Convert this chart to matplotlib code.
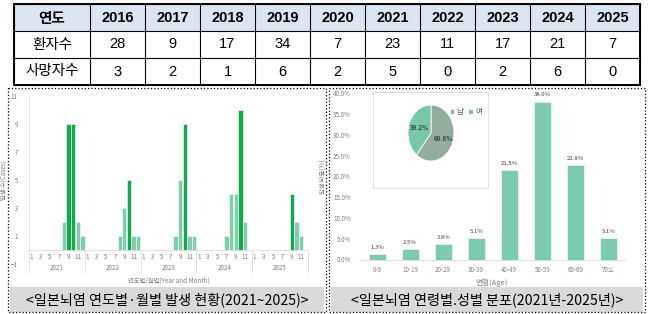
import matplotlib
matplotlib.use('Agg')
import matplotlib.pyplot as plt
from matplotlib.patches import Rectangle

plt.rcParams['font.family'] = ['Noto Sans CJK KR', 'DejaVu Sans']

W, H = 652, 314

# table data
table_years = ['2016', '2017', '2018', '2019', '2020', '2021', '2022', '2023', '2024', '2025']
patients = [28, 9, 17, 34, 7, 23, 11, 17, 21, 7]
deaths = [3, 2, 1, 6, 2, 5, 0, 2, 6, 0]

# monthly cases 2021-2025 (Jan..Dec)
chart_years = ['2021', '2022', '2023', '2024', '2025']
cases_2021 = [0, 0, 0, 0, 0, 0, 0, 2, 9, 9, 2, 1]
cases_2022 = [0, 0, 0, 0, 0, 0, 0, 1, 3, 5, 1, 1]
cases_2023 = [0, 0, 0, 0, 0, 0, 0, 1, 5, 9, 1, 1]
cases_2024 = [0, 0, 0, 0, 0, 0, 1, 4, 4, 10, 2, 0]
cases_2025 = [0, 0, 0, 0, 0, 0, 0, 0, 4, 2, 1, 0]
month_ticks = ['1', '3', '5', '7', '9', '11']

# age / sex distribution
age_groups = ['0-9', '10-19', '20-29', '30-39', '40-49', '50-59', '60-69', '70≤']
age_share = [1.3, 2.5, 3.8, 5.1, 21.5, 38.0, 22.8, 5.1]
sex_labels = ['남', '여']
sex_share = [60.8, 39.2]

LIGHT = '#7fcdab'
DARK = '#14a84e'
GRAY = '#7f7f7f'


def box(x0, y0, x1, y1):
    # pixel box -> figure coords
    return [x0 / W, 1 - y1 / H, (x1 - x0) / W, (y1 - y0) / H]


fig = plt.figure(figsize=(W / 100, H / 100), dpi=100)
fig.patch.set_facecolor('white')

bg = fig.add_axes([0, 0, 1, 1])
bg.set_xlim(0, W)
bg.set_ylim(H, 0)
bg.axis('off')

# ---- table ----
tx0, tx1 = 14, 640
first_w = 76
col_w = (tx1 - tx0 - first_w) / len(table_years)
row_y = [4, 31, 58, 85]
bg.add_patch(Rectangle((tx0, row_y[0]), tx1 - tx0, row_y[1] - row_y[0],
                       facecolor='#dbe5f1', edgecolor='none'))
col_x = [tx0, tx0 + first_w] + [tx0 + first_w + col_w * (i + 1) for i in range(len(table_years))]
for x in col_x:
    bg.plot([x, x], [row_y[0], row_y[-1]], color='black', lw=0.8)
for y in row_y:
    bg.plot([tx0, tx1], [y, y], color='black', lw=0.8)
bg.add_patch(Rectangle((tx0, row_y[0]), tx1 - tx0, row_y[-1] - row_y[0],
                       facecolor='none', edgecolor='black', lw=1.4))

rows = [('연도', table_years), ('환자수', patients), ('사망자수', deaths)]
for r, (head, vals) in enumerate(rows):
    yc = (row_y[r] + row_y[r + 1]) / 2
    wt = 'bold' if r == 0 else 'normal'
    bg.text(tx0 + first_w / 2, yc, head, ha='center', va='center', fontsize=10.5, fontweight=wt)
    for i, v in enumerate(vals):
        xc = tx0 + first_w + col_w * (i + 0.5)
        bg.text(xc, yc, str(v), ha='center', va='center', fontsize=10.5, fontweight=wt,
                family=['Liberation Sans', 'DejaVu Sans'])

# ---- panel frames and captions ----
for (px0, px1) in [(8, 326), (329, 645)]:
    bg.add_patch(Rectangle((px0 + 2, 287), px1 - px0 - 4, 25, facecolor='#d9d9d9', edgecolor='none'))
    bg.add_patch(Rectangle((px0, 88), px1 - px0, 224, facecolor='none', edgecolor='black',
                           lw=0.9, linestyle=':'))
bg.text(167, 300, '<일본뇌염 연도별·월별 발생 현황(2021~2025)>', ha='center', va='center', fontsize=10.2)
bg.text(487, 300, '<일본뇌염 연령별.성별 분포(2021년-2025년)>', ha='center', va='center', fontsize=10.2)

# ---- left: monthly bars ----
ax1 = fig.add_axes(box(29, 95.7, 308, 264))
all_cases = [cases_2021, cases_2022, cases_2023, cases_2024, cases_2025]
vals, cols = [], []
for yc in all_cases:
    peak = max(yc)
    for v in yc:
        vals.append(v)
        cols.append(DARK if v == peak and v > 0 else LIGHT)
ax1.bar(range(len(vals)), vals, width=0.92, color=cols, edgecolor='white', linewidth=0.4)
ax1.set_xlim(-0.5, len(vals) - 0.5)
ax1.set_ylim(-1, 11)
ax1.set_yticks([-1, 1, 3, 5, 7, 9, 11])
ax1.tick_params(axis='y', labelsize=4.5, colors=GRAY, length=0, pad=8)
ax1.set_xticks([])
for s in ax1.spines.values():
    s.set_visible(False)
ax1.axhline(0, color='#d9d9d9', lw=0.6)
ax1.plot([-0.5, -0.5], [-1.6, 11], color='#d9d9d9', lw=0.6, clip_on=False)
for k, yr in enumerate(chart_years):
    for m in range(0, 12, 2):
        ax1.text(k * 12 + m, -0.5, month_ticks[m // 2], ha='center', va='center',
                 fontsize=4.5, color=GRAY, clip_on=False)
    ax1.text(k * 12 + 5.5, -1.3, yr, ha='center', va='center', fontsize=4.5, color=GRAY, clip_on=False)
    ax1.plot([k * 12 + 11.5] * 2, [0, -1.6], color='#d9d9d9', lw=0.6, clip_on=False)
ax1.text(29.5, -2.15, '연도별/월별(Year and Month)', ha='center', va='center', fontsize=4.5,
         color=GRAY, clip_on=False)
ax1.set_ylabel('발생 수(Cases)', fontsize=4.5, color=GRAY, labelpad=2)

# ---- right: age distribution ----
ax2 = fig.add_axes(box(359, 93.3, 625, 259.5))
ax2.patch.set_visible(False)
bars = ax2.bar(range(len(age_groups)), age_share, width=0.52, color='#7bcaae',
               edgecolor='white', linewidth=0.4)
for b, v in zip(bars, age_share):
    ax2.text(b.get_x() + b.get_width() / 2, v + 1.0, f'{v:.1f}%', ha='center', va='bottom',
             fontsize=4.3, color='#404040')
ax2.set_xlim(-0.55, 7.5)
ax2.set_ylim(0, 40)
ax2.set_yticks(range(0, 41, 5))
ax2.set_yticklabels([f'{t:.1f}%' for t in range(0, 41, 5)])
ax2.set_xticks(range(len(age_groups)))
ax2.set_xticklabels(age_groups)
ax2.tick_params(labelsize=4.5, colors=GRAY, length=0)
ax2.tick_params(axis='y', pad=6)
ax2.tick_params(axis='x', pad=5)
for s in ['top', 'right', 'left']:
    ax2.spines[s].set_visible(False)
ax2.spines['bottom'].set_color('#d9d9d9')
ax2.spines['bottom'].set_linewidth(0.6)
ax2.set_xlabel('연령(Age)', fontsize=5.5, color=GRAY, labelpad=3)
ax2.set_ylabel('발생 비율(%)', fontsize=4.5, color=GRAY, labelpad=4)

# inset pie with its own framed box
inset = fig.add_axes(box(373, 92, 488, 188))
inset.set_xticks([])
inset.set_yticks([])
for s in inset.spines.values():
    s.set_color('#d9d9d9')
    s.set_linewidth(0.6)
ax3 = fig.add_axes(box(408, 105, 454, 161))
wedges, _, autotexts = ax3.pie(sex_share, colors=['#92ad9c', '#76c8a8'], startangle=90,
                               counterclock=False, autopct='%1.1f%%', pctdistance=0.55,
                               wedgeprops=dict(edgecolor='white', linewidth=0.6),
                               textprops=dict(fontsize=4.5, color='#404040', fontweight='bold'))
ax3.set_aspect('auto')
ax3.set_xlim(-1, 1)
ax3.set_ylim(-1, 1)
fig.legend(wedges, sex_labels, loc='center', bbox_to_anchor=(466 / W, 1 - 112 / H), ncol=2,
           frameon=False, fontsize=5.5, handlelength=0.6, handleheight=0.6, handletextpad=0.3,
           columnspacing=0.6, labelcolor='#595959')

fig.savefig('out.png', dpi=100)
